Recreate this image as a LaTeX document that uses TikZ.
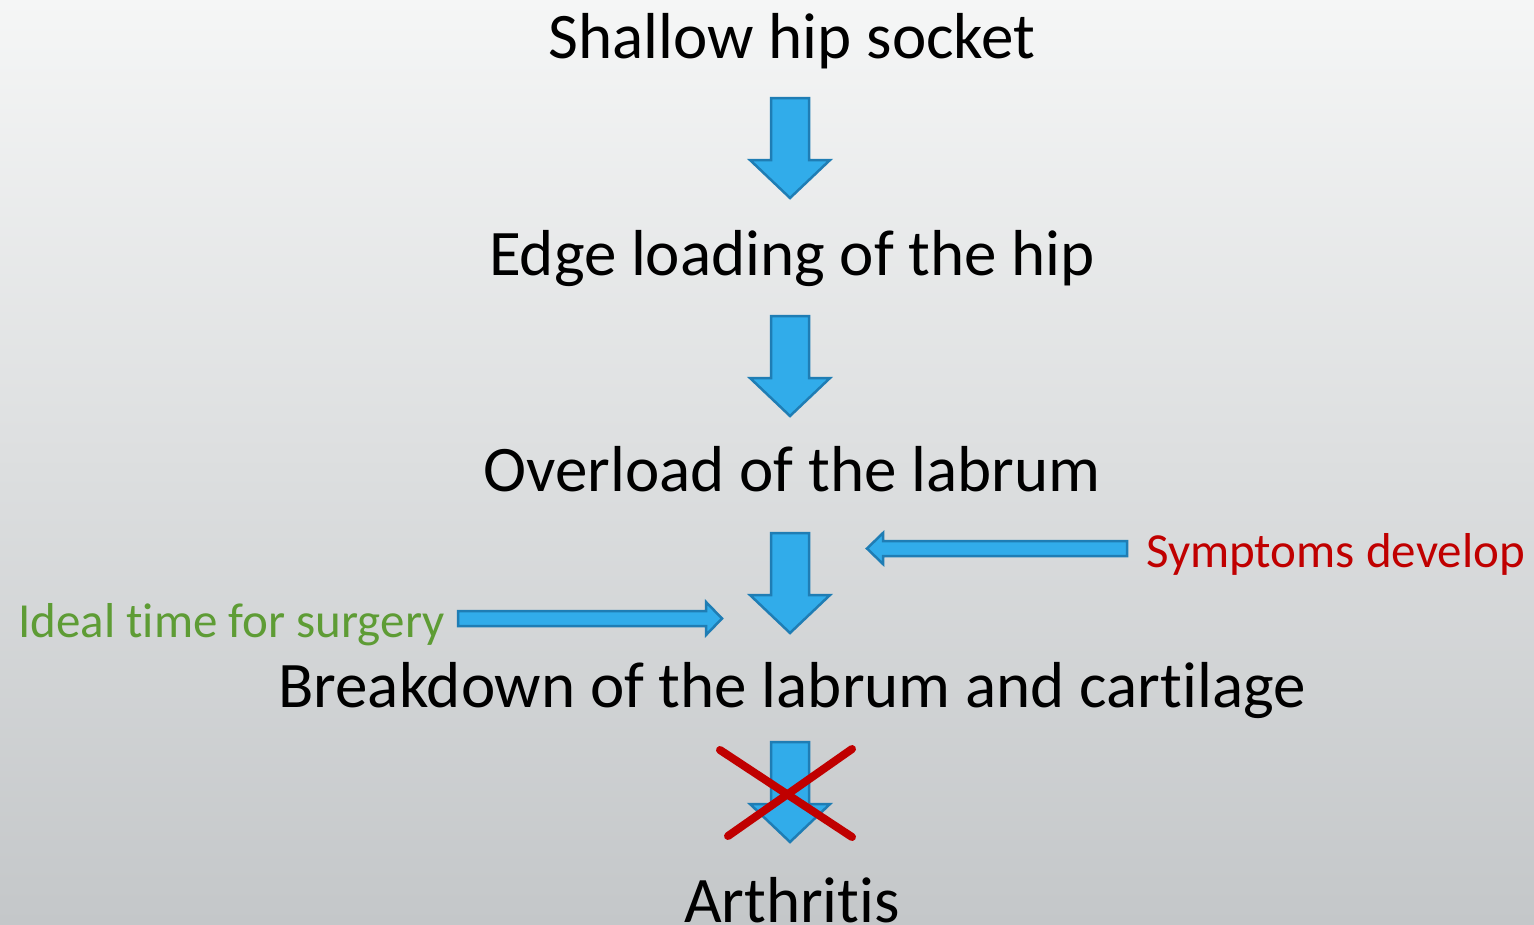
\documentclass[tikz,border=0pt]{standalone}
\usepackage{fontspec}
\setmainfont{Carlito}[RawFeature={-liga}]
\definecolor{arrfill}{HTML}{31ACEA}
\definecolor{arrdraw}{HTML}{1F7DB4}
\definecolor{crossred}{HTML}{C00000}
\definecolor{symred}{HTML}{C00000}
\definecolor{idealgreen}{HTML}{5E9C35}
\definecolor{bgtop}{HTML}{F5F6F6}
\definecolor{bgbot}{HTML}{C4C7C9}
\begin{document}
\begin{tikzpicture}[x=1pt,y=-1pt,
  blockarrow/.style={fill=arrfill,draw=arrdraw,line width=2.5pt,line join=miter},
  bigtext/.style={anchor=base,font=\fontsize{65}{65}\selectfont,text=black,inner sep=0},
  smalltext/.style={anchor=base,font=\fontsize{49}{49}\selectfont,inner sep=0},
  crossline/.style={draw=crossred,line width=8pt,line cap=round},
  downarr/.pic={\path[blockarrow] (-19,0) -- (19,0) -- (19,62) -- (40,62) -- (0,100) -- (-40,62) -- (-19,62) -- cycle;}
]
\useasboundingbox (0,0) rectangle (1534,924);
\shade[top color=bgtop,bottom color=bgbot] (0,0) rectangle (1534,924);

\node[bigtext] (t1) at (792,58) {Shallow hip socket};
\node[bigtext] (t2) at (792,275) {Edge loading of the hip};
\node[bigtext] (t3) at (792,491) {Overload of the labrum};
\node[bigtext] (t4) at (792,707) {Breakdown of the labrum and cartilage};
\node[bigtext] (t5) at (792,922) {Arthritis};

\pic at (790,98) {downarr};
\pic at (790,316) {downarr};
\pic at (790,533) {downarr};
\pic at (790,742) {downarr};

% Symptoms arrow (pointing left)
\node[smalltext,text=symred,anchor=base west] (sym) at (1146,567) {Symptoms develop};
\path[blockarrow] (1127,541) -- (883,541) -- (883,533) -- (867,548.5) -- (883,564) -- (883,556) -- (1127,556) -- cycle;

% Ideal arrow (pointing right)
\node[smalltext,text=idealgreen,anchor=base west] (ideal) at (18,637) {Ideal time for surgery};
\path[blockarrow] (458,611) -- (706,611) -- (706,602) -- (722,618.5) -- (706,635) -- (706,626) -- (458,626) -- cycle;

% cross
\coordinate (c1) at (720,750);
\coordinate (c2) at (852,837);
\coordinate (c3) at (852,749);
\coordinate (c4) at (728,836);
\draw[crossline] (c1) -- (c2);
\draw[crossline] (c3) -- (c4);
\end{tikzpicture}
\end{document}
